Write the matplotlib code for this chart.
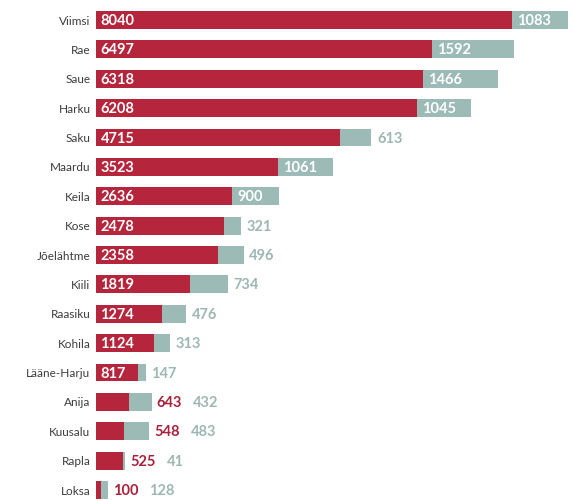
import matplotlib
matplotlib.use('Agg')
import matplotlib.pyplot as plt

# Data
municipalities = ['Viimsi', 'Rae', 'Saue', 'Harku', 'Saku', 'Maardu', 'Keila', 'Kose',
                  'Jõelähtme', 'Kiili', 'Raasiku', 'Kohila', 'Lääne-Harju', 'Anija',
                  'Kuusalu', 'Rapla', 'Loksa']
red_vals = [8040, 6497, 6318, 6208, 4715, 3523, 2636, 2478, 2358, 1819, 1274, 1124,
            817, 643, 548, 525, 100]
green_vals = [1083, 1592, 1466, 1045, 613, 1061, 900, 321, 496, 734, 476, 313,
              147, 432, 483, 41, 128]

RED = '#B5253C'
GREEN = '#9CBBB7'
GREEN_TXT = '#9DB7B3'
RED_TXT = '#A9213A'

plt.rcParams['font.family'] = ['Lato', 'DejaVu Sans']

fig = plt.figure(figsize=(5.74, 5.02), dpi=100)
ax = fig.add_axes([96 / 574, 0, 1 - 96 / 574, 1])

px = 1 / 0.0517  # data units per pixel
ax.set_xlim(0, (574 - 96) * px)
ax.set_ylim(-0.715 + 502 / 29.375, -0.715)

y = list(range(len(municipalities)))
bar_h = 0.61
ax.barh(y, red_vals, height=bar_h, color=RED, linewidth=0)
ax.barh(y, green_vals, left=red_vals, height=bar_h, color=GREEN, linewidth=0)

pad = 3.2  # points
for i, (name, r, g) in enumerate(zip(municipalities, red_vals, green_vals)):
    ax.annotate(name, xy=(0, i), xytext=(-4, 0), textcoords='offset points',
                ha='right', va='center', fontsize=8.5, color='#3c3c3c')
    end = r + g
    if r >= 800:
        ax.annotate(str(r), xy=(0, i), xytext=(pad, 0), textcoords='offset points',
                    ha='left', va='center', fontsize=10.5, fontweight='bold',
                    color='white')
        if g >= 900:
            ax.annotate(str(g), xy=(r, i), xytext=(pad + 0.5, 0),
                        textcoords='offset points', ha='left', va='center',
                        fontsize=10.5, fontweight='bold', color='white')
        else:
            ax.annotate(str(g), xy=(end, i), xytext=(4, 0),
                        textcoords='offset points', ha='left', va='center',
                        fontsize=10.5, fontweight='bold', color=GREEN_TXT)
    else:
        t = ax.annotate(str(r), xy=(end, i), xytext=(3.5, 0),
                        textcoords='offset points', ha='left', va='center',
                        fontsize=10.5, fontweight='bold', color=RED_TXT)
        ax.annotate(str(g), xy=(1, 0.5), xycoords=t, xytext=(8, 0),
                    textcoords='offset points', ha='left', va='center',
                    fontsize=10.5, fontweight='bold', color=GREEN_TXT)

ax.axis('off')
fig.savefig('out.png', dpi=100, facecolor='white')
